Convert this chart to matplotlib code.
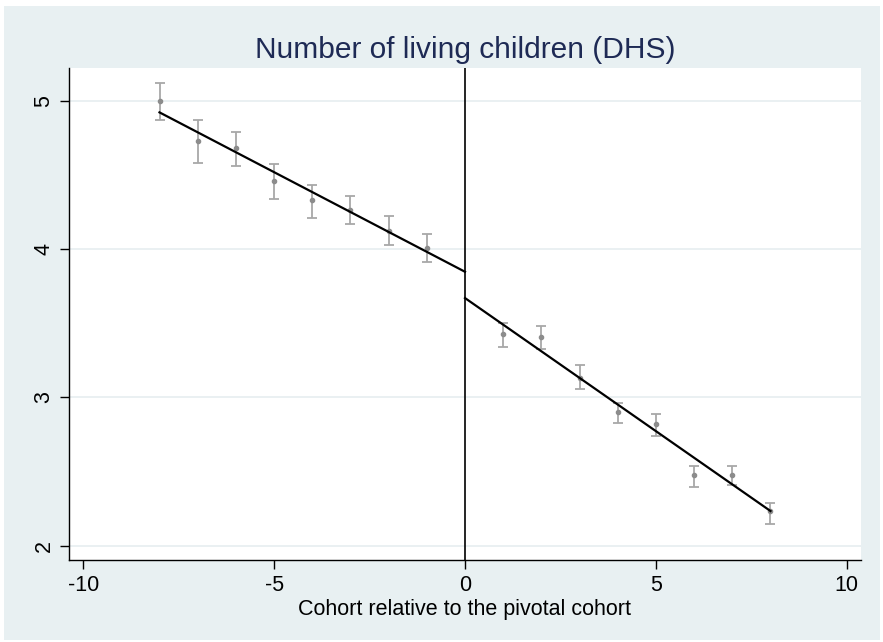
import matplotlib
matplotlib.use("Agg")
import matplotlib.pyplot as plt
from matplotlib.patches import Rectangle
import numpy as np

plt.rcParams["axes.unicode_minus"] = False
plt.rcParams["font.family"] = ["Liberation Sans", "DejaVu Sans"]

# cohort relative to the pivotal cohort
cohort = [-8, -7, -6, -5, -4, -3, -2, -1, 1, 2, 3, 4, 5, 6, 7, 8]
mean_children = [5.00, 4.73, 4.68, 4.46, 4.33, 4.26, 4.12, 4.01,
                 3.43, 3.41, 3.13, 2.90, 2.82, 2.48, 2.48, 2.235]
ci_low = [4.87, 4.58, 4.56, 4.34, 4.21, 4.17, 4.03, 3.91,
          3.34, 3.33, 3.06, 2.83, 2.74, 2.40, 2.41, 2.15]
ci_high = [5.12, 4.87, 4.79, 4.57, 4.43, 4.36, 4.22, 4.10,
           3.50, 3.48, 3.22, 2.96, 2.89, 2.54, 2.54, 2.29]

# linear fits on each side of the cutoff
fit_left_x = [-8, 0]
fit_left_y = [4.921, 3.847]
fit_right_x = [0, 8]
fit_right_y = [3.670, 2.235]

BG = "#E8F0F2"
NAVY = "#1E2A55"

fig = plt.figure(figsize=(8.83, 6.42), dpi=100, facecolor="white")
fig.patches.append(Rectangle((4 / 883, 2 / 642), 876 / 883, 634 / 642,
                             transform=fig.transFigure, facecolor=BG,
                             edgecolor="none", zorder=-10))
ax = fig.add_axes([69 / 883, 82 / 642, 792 / 883, 492 / 642])
ax.set_facecolor("white")

x = np.array(cohort)
y = np.array(mean_children)
yerr = [y - np.array(ci_low), np.array(ci_high) - y]
ax.errorbar(x, y, yerr=yerr, fmt="o", ms=3, color="#8C8C8C",
            ecolor="#A8A8A8", elinewidth=1.3, capsize=3.3, capthick=1.3, zorder=3)

ax.plot(fit_left_x, fit_left_y, color="black", lw=1.6, zorder=4)
ax.plot(fit_right_x, fit_right_y, color="black", lw=1.6, zorder=4)
ax.axvline(0, color="black", lw=1.2, zorder=4)

ax.set_xlim(-10.37, 10.37)
ax.set_ylim(1.905, 5.22)
ax.set_xticks([-10, -5, 0, 5, 10])
ax.set_yticks([2, 3, 4, 5])
ax.yaxis.grid(True, color="#E6EEF0", lw=1.2)
ax.set_axisbelow(True)

for s in ["top", "right"]:
    ax.spines[s].set_visible(False)
for s in ["left", "bottom"]:
    ax.spines[s].set_linewidth(1.0)

ax.tick_params(axis="both", length=6.5, width=1, labelsize=15.5, colors="black")
ax.tick_params(axis="x", pad=4)
ax.tick_params(axis="y", pad=4)
for lab in ax.get_yticklabels():
    lab.set_rotation(90)
    lab.set_va("center")

ax.set_xlabel("Cohort relative to the pivotal cohort", fontsize=15.5, va="baseline")
ax.xaxis.set_label_coords(0.5, -(615 - 560) / 492)

fig.text(465 / 883, (642 - 58) / 642, "Number of living children (DHS)",
         fontsize=21.5, color=NAVY, ha="center", va="baseline")

fig.savefig("out.png", dpi=100, facecolor=fig.get_facecolor())
